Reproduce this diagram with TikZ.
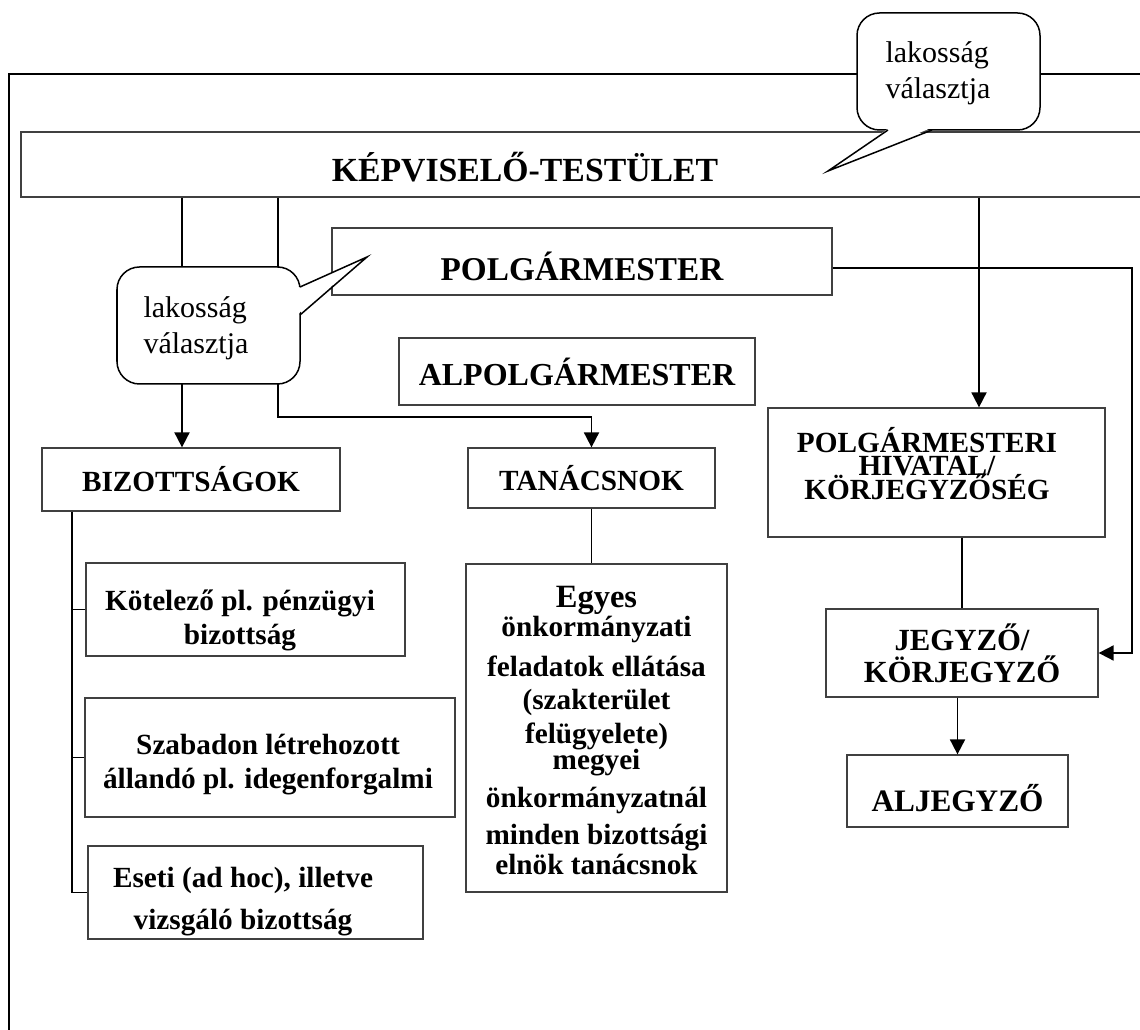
\documentclass[tikz,border=0pt]{standalone}
\usepackage{fontspec}
\setmainfont{Liberation Serif}
\usetikzlibrary{arrows.meta}

\begin{document}
\begin{tikzpicture}[x=0.4pt,y=-0.4pt,
    box/.style={draw=black!75, line width=0.5pt, inner sep=0pt, align=center,
      font=\bfseries\fontsize{11.7}{13.6}\selectfont},
    boxtext/.style={inner sep=0pt, align=center, font=\bfseries\fontsize{11.7}{13.6}\selectfont},
    bigtext/.style={boxtext, font=\bfseries\fontsize{13.3}{15}\selectfont},
    callout/.style={draw, line width=0.6pt, fill=white, rounded corners=9pt,
      inner sep=0pt, minimum width=73.2pt, minimum height=46.8pt},
    callouttext/.style={inner sep=0pt, align=left, font=\fontsize{12}{14.4}\selectfont},
    link/.style={line width=0.75pt},
    thin/.style={line width=0.5pt},
    arr/.style={link, -{Triangle[length=6pt,width=6pt]}}]

  \useasboundingbox (0,0) rectangle (1140,1030);
  \clip (0,0) rectangle (1140,1030);

  % outer frame, open to the right and bottom
  \draw[line width=0.9pt] (9,1040) -- (9,74) -- (1150,74);

  \node[box, minimum width=455.6pt, minimum height=26pt] (kt) at (590.5,164.5) {};
  \node[bigtext, font=\bfseries\fontsize{13.5}{15}\selectfont] (kttext) at (525,167) {KÉPVISELŐ-TESTÜLET};

  \node[box, minimum width=200pt, minimum height=26.8pt] (pm) at (582,261.5) {};
  \node[bigtext] (pmtext) at (582,266.5) {POLGÁRMESTER};
  \node[box, minimum width=142.4pt, minimum height=26.8pt,
    font=\bfseries\fontsize{12.8}{15}\selectfont] (alpm) at (577,371.5) {ALPOLGÁRMESTER};

  \node[box, minimum width=119.2pt, minimum height=25.2pt] (biz) at (191,479.5) {BIZOTTSÁGOK};
  \node[box, minimum width=98.8pt, minimum height=24pt] (tan) at (591.5,478) {TANÁCSNOK};

  \node[box, minimum width=134.8pt, minimum height=51.6pt] (ph) at (936.5,472.5) {};
  \node[boxtext, font={\bfseries\fontsize{11.7}{9.4}\selectfont\lineskiplimit=-20pt}] (phtext)
    at (927,463.5) {POLGÁRMESTERI\\HIVATAL/\\KÖRJEGYZŐSÉG};
  \node[box, minimum width=108.8pt, minimum height=35.2pt,
    font=\bfseries\fontsize{12.3}{12.8}\selectfont] (jegyzo) at (962,653) {JEGYZŐ/\\KÖRJEGYZŐ};
  \node[box, minimum width=88.4pt, minimum height=28.8pt] (aljegyzo) at (957.5,791) {};
  \node[boxtext, font=\bfseries\fontsize{12.5}{14}\selectfont] (aljtext) at (957.5,798) {ALJEGYZŐ};

  \node[box, minimum width=127.6pt, minimum height=37.2pt] (kotelezo) at (245.5,609.5) {};
  \node[boxtext] (kottext) at (240,620.5) {Kötelező pl. pénzügyi\\bizottság};
  \node[box, minimum width=148pt, minimum height=47.6pt] (szabadon) at (270,757.5) {};
  \node[boxtext] (szabtext) at (268,764.5) {Szabadon létrehozott\\állandó pl. idegenforgalmi};
  \node[box, minimum width=134pt, minimum height=37.2pt] (eseti) at (255.5,892.5) {};
  \node[boxtext] (esettext) at (243,901.5) {Eseti (ad hoc), illetve\\[3pt]vizsgáló bizottság};

  \node[box, minimum width=104.4pt, minimum height=131.2pt] (egyes) at (596.5,728) {};
  \foreach \yy/\txt [count=\i] in {608/{\fontsize{13}{15}\selectfont Egyes},
      637/önkormányzati, 677/feladatok ellátása, 710/{(szakterület},
      744/{felügyelete)}, 770/megyei, 808/önkormányzatnál,
      845/minden bizottsági, 875/elnök tanácsnok}
    \node[boxtext, anchor=base] (eg\i) at (596.5,\yy) {\txt};

  % connectors
  \coordinate (b1) at (182,0);
  \coordinate (t1) at (278,417);
  \coordinate (h1) at (979,0);
  \coordinate (r1) at (1132,268);
  \coordinate (k1) at (72,0);

  \draw[arr] (kt.south -| b1) -- (b1 |- biz.north);
  \draw[arr] (kt.south -| t1) -- (t1) -| (tan.north);
  \draw[arr] (kt.south -| h1) -- (h1 |- ph.north);
  \draw[arr] (pm.east |- r1) -- (r1) |- (jegyzo.east);
  \draw[link] (jegyzo.north |- ph.south) -- (jegyzo.north);
  \draw[arr] (aljegyzo.north |- jegyzo.south) -- (aljegyzo.north);
  \draw[thin] (tan.south) -- (tan.south |- egyes.north);

  \draw[thin] (biz.south -| k1) -- (k1 |- eseti.west) -- (eseti.west);
  \foreach \n in {kotelezo,szabadon}
    \draw[thin] (k1 |- \n.west) -- (\n.west);

  % speech bubbles
  \node[callout] (lak1) at (948.5,71.5) {};
  \fill[white] (889,128) -- (828,171) -- (931,128) -- cycle;
  \draw[line width=0.6pt] (888,130) -- (828,171) -- (932,130);
  \node[callouttext, anchor=north west] (lak1text) at (885,41.5) {lakosság\\választja};

  \node[callout] (lak2) at (208.5,325.5) {};
  \fill[white] (298,288) -- (367,257) -- (298,314) -- cycle;
  \draw[line width=0.6pt] (300,287) -- (367,257) -- (300,315);
  \node[callouttext, anchor=north west] (lak2text) at (143,296.5) {lakosság\\választja};

\end{tikzpicture}
\end{document}
